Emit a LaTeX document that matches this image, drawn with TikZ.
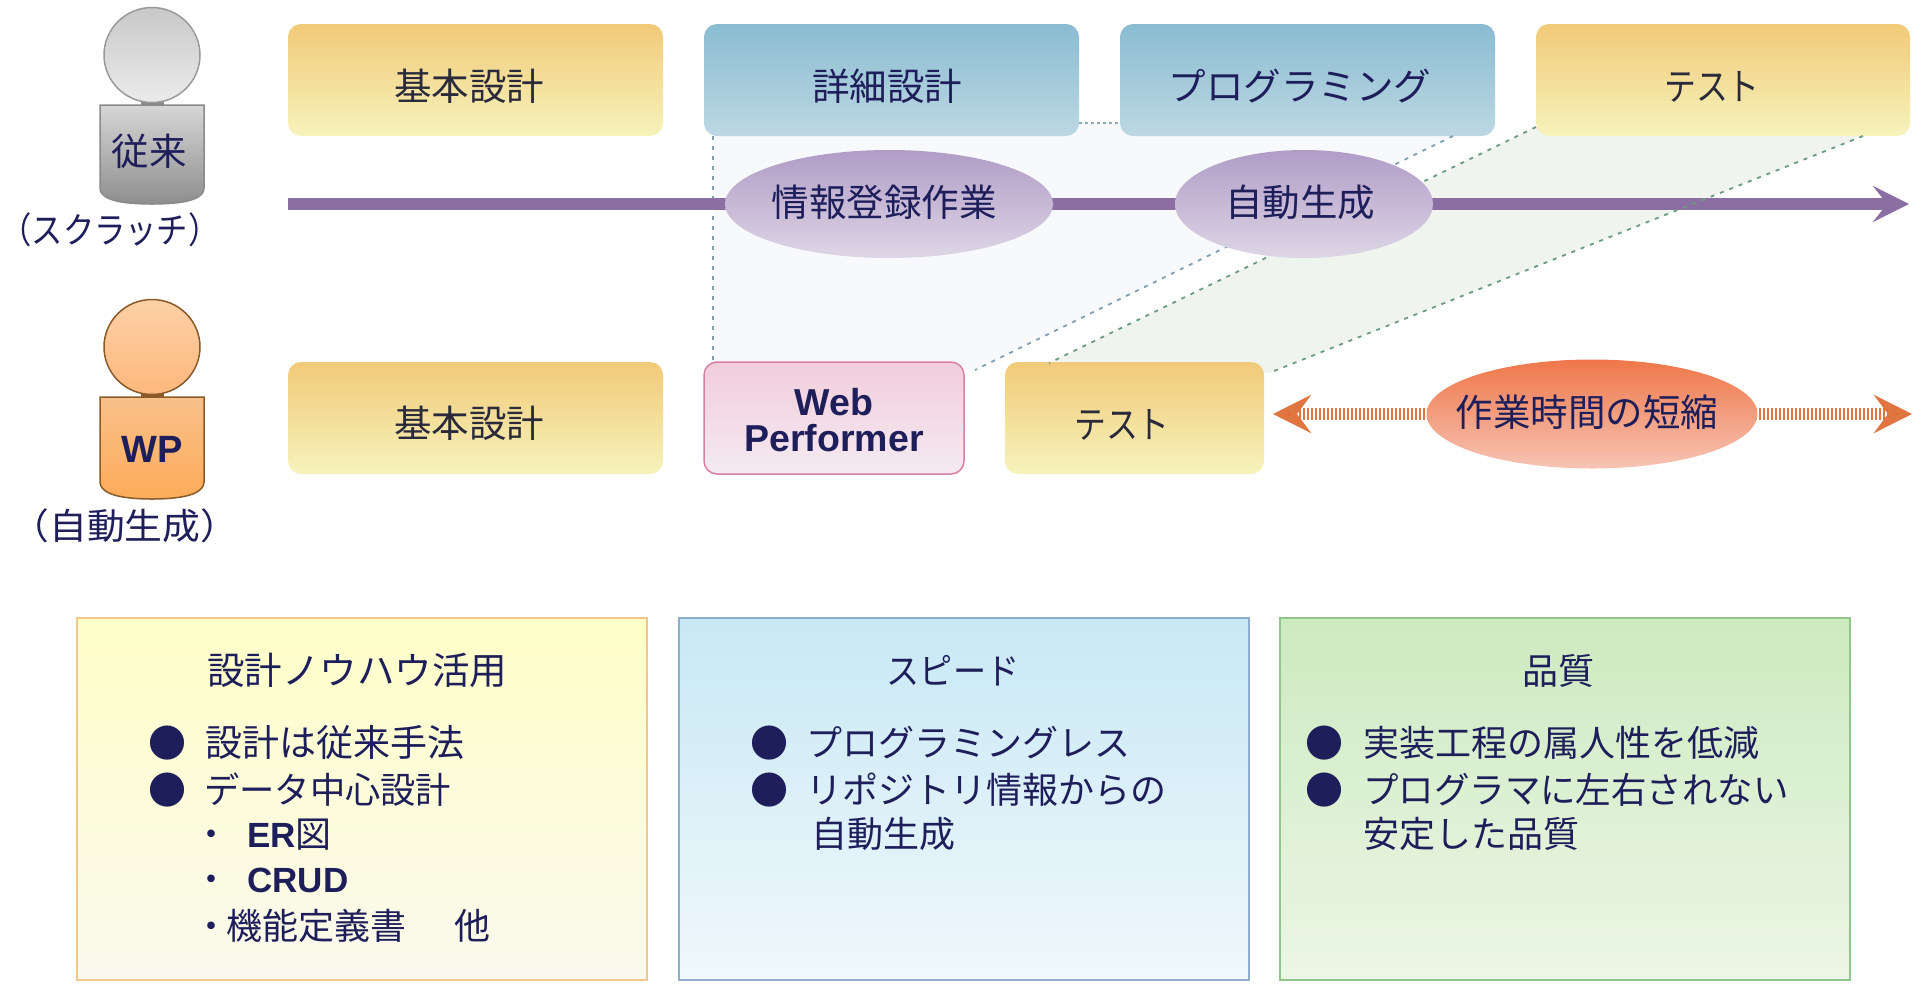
\documentclass[tikz,border=0pt]{standalone}
\usepackage{fontspec}
\usetikzlibrary{shapes.geometric,arrows.meta}
\setmainfont{Noto Sans CJK JP}
\newfontfamily\lib{Liberation Sans}
\definecolor{ink}{HTML}{1E1E5A}
\definecolor{inkd}{HTML}{2A2A3A}
\definecolor{yelT}{HTML}{F1CA78}\definecolor{yelB}{HTML}{F6F3BC}
\definecolor{bluT}{HTML}{8ABCD1}\definecolor{bluB}{HTML}{BDD8E3}
\definecolor{pnkD}{HTML}{D97FA6}\definecolor{pnkT}{HTML}{F1CDDB}\definecolor{pnkB}{HTML}{F4EAF2}
\definecolor{purT}{HTML}{B09CC6}\definecolor{purB}{HTML}{DED6E6}\definecolor{purL}{HTML}{8C6FA2}
\definecolor{orgT}{HTML}{EF774A}\definecolor{orgB}{HTML}{F6C4B4}\definecolor{orgL}{HTML}{E0763F}\definecolor{orgH}{HTML}{E8682C}
\definecolor{lnB}{HTML}{7F9FB2}\definecolor{lnG}{HTML}{6C9A82}\definecolor{lnD}{HTML}{8FA9B5}
\definecolor{palB}{HTML}{F7F9FC}\definecolor{palG}{HTML}{F0F4EE}
\definecolor{gy1}{HTML}{9A9A9A}\definecolor{gy2}{HTML}{C8C8C8}\definecolor{gy3}{HTML}{EBEBEB}\definecolor{gy4}{HTML}{8A8A8A}\definecolor{gy5}{HTML}{D6D6D6}\definecolor{gy6}{HTML}{8E8E8E}
\definecolor{br}{HTML}{8A5A2A}\definecolor{ph1}{HTML}{FDD0A6}\definecolor{ph2}{HTML}{FDB87C}\definecolor{pb1}{HTML}{F9C08A}\definecolor{pb2}{HTML}{FCAC58}
\definecolor{p1D}{HTML}{F0C88C}\definecolor{p1T}{HTML}{FFFFC8}\definecolor{p1B}{HTML}{FAF9EE}
\definecolor{p2D}{HTML}{8FAECB}\definecolor{p2T}{HTML}{C8E8F4}\definecolor{p2B}{HTML}{F0F8FC}
\definecolor{p3D}{HTML}{90C68C}\definecolor{p3T}{HTML}{CDEAC0}\definecolor{p3B}{HTML}{ECF6E6}
\tikzset{
  x=1pt,y=-1pt,
  shapebox/.style={rectangle,rounded corners=13pt,inner sep=0pt,minimum height=112pt},
  yellowbox/.style={shapebox,top color=yelT,bottom color=yelB},
  bluebox/.style={shapebox,top color=bluT,bottom color=bluB},
  pinkbox/.style={shapebox,draw=pnkD,line width=1.5pt,top color=pnkT,bottom color=pnkB},
  purpleoval/.style={ellipse,inner sep=0pt,top color=purT,bottom color=purB},
  orangeoval/.style={ellipse,inner sep=0pt,top color=orgT,bottom color=orgB},
  panel/.style={rectangle,inner sep=0pt,line width=2.5pt,minimum width=570pt,minimum height=362pt},
  txt/.style={inner sep=0pt,text=ink,font=\fontsize{36}{40}\selectfont,text height=32pt,text depth=4.6pt},
  txtb/.style={txt,font=\fontsize{37.5}{40}\selectfont},
  txtd/.style={txtb,text=inkd},
  lefttxt/.style={txt,anchor=west},
  bul/.style={inner sep=0pt,text=ink,font=\fontsize{38}{40}\selectfont},
  headoval/.style={ellipse,inner sep=0pt,line width=1.5pt,minimum width=96pt,minimum height=95pt},
  blueline/.style={draw=lnB,line width=1.8pt,dash pattern=on 4pt off 6pt},
  greenline/.style={draw=lnG,line width=1.8pt,dash pattern=on 4pt off 6pt},
}
\begin{document}
\begin{tikzpicture}
\useasboundingbox (0,0) rectangle (1920,994);
\fill[white] (0,0) rectangle (1920,994);
% guide coordinates
\coordinate (vt) at (713,136); \coordinate (vb) at (713,362);
\coordinate (dl) at (1079,123); \coordinate (dr) at (1120,123);
\coordinate (pb) at (1453,136); \coordinate (wt) at (975,370);
\coordinate (tl) at (1536,127); \coordinate (t2l) at (1049,363);
\coordinate (tr) at (1863,136); \coordinate (t2r) at (1269,373);
\coordinate (a0) at (288,204); \coordinate (a1) at (1909,204);
\coordinate (d0) at (1273,414); \coordinate (d1) at (1912,414);
% pale bands
\fill[palB] (713,130) -- (dl) -- (dr) -- (pb) -- (wt) -- (vb) -- cycle;
\fill[palG] (tl) -- (tr) -- (t2r) -- (t2l) -- cycle;
% timeline boxes
\node[yellowbox,minimum width=375pt] (b1) at (475.5,80) {};
\node[bluebox,minimum width=375pt] (b2) at (891.5,80) {};
\node[bluebox,minimum width=375pt] (b3) at (1307.5,80) {};
\node[yellowbox,minimum width=374pt] (b4) at (1723,80) {};
\node[yellowbox,minimum width=375pt] (c1) at (475.5,418) {};
\node[pinkbox,minimum width=260pt] (c2) at (834,418) {};
\node[yellowbox,minimum width=259pt] (c3) at (1134.5,418) {};
% connectors
\draw[blueline] (vt) -- (vb);
\draw[draw=lnD,line width=1.8pt,dash pattern=on 3pt off 3pt] (dl) -- (dr);
\draw[line width=11.5pt,draw=purL,-{Stealth[length=36pt,width=36pt,inset=14pt,fill=purL]}] (a0) -- (a1);
\draw[blueline] (pb) -- (wt);
\draw[greenline] (tl) -- (t2l);
\draw[greenline] (tr) -- (t2r);
\draw[line width=12pt,draw=orgL,dash pattern=on 2.2pt off 1.8pt,{Stealth[length=38pt,width=38pt,inset=14pt,fill=orgH]}-{Stealth[length=38pt,width=38pt,inset=14pt,fill=orgH]}] (d0) -- (d1);
% ovals
\node[purpleoval,minimum width=328pt,minimum height=108pt] (o1) at (889,204) {};
\node[purpleoval,minimum width=258pt,minimum height=108pt] (o2) at (1304,204) {};
\node[orangeoval,minimum width=331pt,minimum height=109pt] (o3) at (1592,414) {};
% figures
\fill[gy4] (141,100) rectangle (164,106);
\node[headoval,draw=gy1,top color=gy2,bottom color=gy3] (h1) at (152,55) {};
\draw[draw=gy4,line width=1.5pt,top color=gy5,bottom color=gy6] (100,105) -- (204,105) -- (204,188) .. controls (204,197) and (192,204) .. (152,204) .. controls (112,204) and (100,197) .. (100,188) -- cycle;
\fill[br] (141,392) rectangle (164,398);
\node[headoval,draw=br,top color=ph1,bottom color=ph2] (h2) at (152,347) {};
\draw[draw=br,line width=1.5pt,top color=pb1,bottom color=pb2] (100,397) -- (204,397) -- (204,482) .. controls (204,491) and (192,499) .. (152,499) .. controls (112,499) and (100,491) .. (100,482) -- cycle;
\node[txtb] (t1) at (149,152) {従来};
\node[inner sep=0pt,text=ink,font=\lib\bfseries\fontsize{38}{40}\selectfont] (t2) at (152,449) {WP};
\node[txt] (t3) at (110,230) {\scalebox{0.87}[1]{（スクラッチ）}};
\node[txt] (t4) at (125,526) {\scalebox{1.05}[1]{（自動生成）}};
% box texts
\node[txtd] (l1) at (469,87) {基本設計};
\node[txtb] (l2) at (887,87) {詳細設計};
\node[txtb] (l3) at (1300,87) {プログラミング};
\node[txtd] (l4) at (1712,87) {\scalebox{0.85}[1]{テスト}};
\node[txtd] (l5) at (469,424) {基本設計};
\node[inner sep=0pt,align=center,text=ink,font=\lib\bfseries\fontsize{37.5}{36}\selectfont] (l6) at (834,420) {Web\\Performer};
\node[txtd] (l7) at (1122,425) {\scalebox{0.85}[1]{テスト}};
\node[txtb] (l8) at (884,203) {情報登録作業};
\node[txtb] (l9) at (1300,203) {自動生成};
\node[txtb] (l10) at (1587,413) {作業時間の短縮};
% panels
\node[panel,draw=p1D,top color=p1T,bottom color=p1B] (p1) at (362,799) {};
\node[panel,draw=p2D,top color=p2T,bottom color=p2B] (p2) at (964,799) {};
\node[panel,draw=p3D,top color=p3T,bottom color=p3B] (p3) at (1565,799) {};
% panel 1
\node[txtb] (a1t) at (357,671) {設計ノウハウ活用};
\node[bul] (a1b) at (167,743) {●};
\node[lefttxt,font=\fontsize{37}{40}\selectfont] (a1a) at (205,743) {設計は従来手法};
\node[bul] (a2b) at (167,790) {●};
\node[lefttxt] (a2a) at (204,790) {\scalebox{0.98}[1]{データ中心設計}};
\node[lefttxt] (a3a) at (193,834) {・\hspace{18pt}{\lib\bfseries\fontsize{35}{40}\selectfont ER}図};
\node[lefttxt] (a4a) at (193,879) {・\hspace{18pt}{\lib\bfseries\fontsize{35}{40}\selectfont CRUD}};
\node[lefttxt] (a5a) at (193,926) {・\hspace{-3pt}機能定義書　\hspace{12pt}他};
% panel 2
\node[txt] (b1t) at (953,671) {\scalebox{0.92}[1]{スピード}};
\node[bul] (b1b) at (769,743) {●};
\node[lefttxt] (b1a) at (806,743) {プログラミングレス};
\node[bul] (b2b) at (769,790) {●};
\node[lefttxt] (b2a) at (806,790) {リポジトリ情報からの};
\node[lefttxt] (b3a) at (811,834) {自動生成};
% panel 3
\node[txt] (c1t) at (1558,671) {品質};
\node[bul] (c1b) at (1324,743) {●};
\node[lefttxt] (c1a) at (1363,743) {実装工程の属人性を低減};
\node[bul] (c2b) at (1324,790) {●};
\node[lefttxt] (c2a) at (1363,790) {\scalebox{0.985}[1]{プログラマに左右されない}};
\node[lefttxt] (c3a) at (1363,834) {安定した品質};
\end{tikzpicture}
\end{document}
